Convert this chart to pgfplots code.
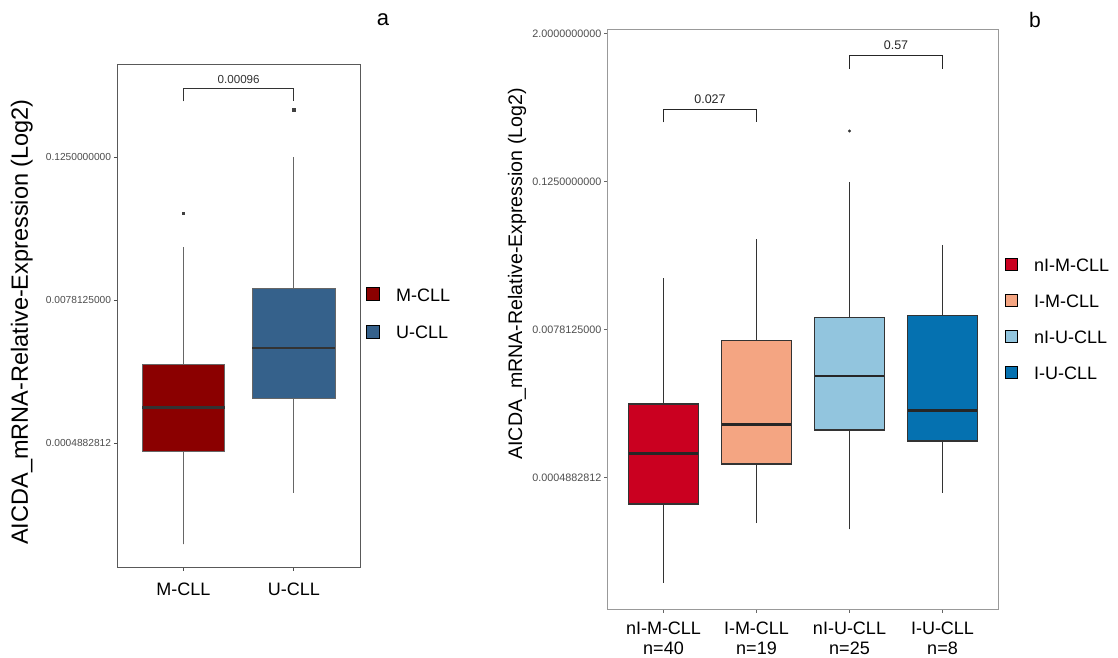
\documentclass[border=0pt]{standalone}
\usepackage{fontspec}
\setmainfont{Liberation Sans}
\usepackage{pgfplots}
\pgfplotsset{compat=1.18}
\usepgfplotslibrary{statistics}

\definecolor{mcll}{HTML}{8B0000}
\definecolor{ucll}{HTML}{35618B}
\definecolor{c1}{HTML}{CA0020}
\definecolor{c2}{HTML}{F4A582}
\definecolor{c3}{HTML}{92C5DE}
\definecolor{c4}{HTML}{0571B0}
\definecolor{tickgray}{HTML}{4D4D4D}

\pgfplotsset{
  boxplot/draw direction=y,
  boxplot/draw/lower whisker/.code={%
    \draw[/pgfplots/boxplot/every whisker/.try]
      (boxplot cs:\pgfplotsboxplotvalue{lower whisker}) --
      (boxplot cs:\pgfplotsboxplotvalue{lower quartile});},
  boxplot/draw/upper whisker/.code={%
    \draw[/pgfplots/boxplot/every whisker/.try]
      (boxplot cs:\pgfplotsboxplotvalue{upper quartile}) --
      (boxplot cs:\pgfplotsboxplotvalue{upper whisker});},
}

\begin{document}
\begin{tikzpicture}
\useasboundingbox (0,0) rectangle (1118pt,657pt);
% ---------------- panel a ----------------
\begin{axis}[
  at={(117.3pt,90pt)}, anchor=south west,
  scale only axis, width=242.7pt, height=502pt,
  xmin=0.4, xmax=2.6, ymin=-14.46, ymax=-0.42,
  xtick={1,2}, xticklabels={M-CLL,U-CLL},
  ytick={-11,-7,-3}, yticklabels={0.0004882812,0.0078125000,0.1250000000},
  tick align=outside, xtick pos=bottom, ytick pos=left,
  major tick length=3.5pt,
  tick style={black!70, line width=0.8pt},
  axis line style={black!65, line width=1pt},
  xticklabel style={font=\fontsize{18}{20}\selectfont, text=black, inner sep=0pt, yshift=-12pt},
  yticklabel style={font=\fontsize{10.2}{12}\selectfont, text=tickgray, inner sep=2.5pt},
  ylabel={AICDA\_mRNA-Relative-Expression (Log2)},
  ylabel style={font=\fontsize{23.5}{26}\selectfont, at={(axis description cs:-0.393,0.488)}, anchor=center},
  legend style={draw=none, fill=none, at={(axis description cs:1.0247,0.558)}, anchor=north west,
    font=\fontsize{18}{20}\selectfont, row sep=19.5pt, inner sep=0pt,
    nodes={inner sep=0pt, text height=13pt, text depth=4pt},
    /tikz/every odd column/.append style={column sep=16pt}},
  legend cell align=left,
  legend image code/.code={\draw[#1, line width=0.9pt] (0pt,-4pt) rectangle (13pt,9pt);},
  boxplot/every median/.style={draw=black!80, line width=2.5pt},
  boxplot/box extend=0.75,
  clip=false,
]
\addplot[forget plot, fill=mcll, draw=black!60, line width=0.8pt,
  mark=square*, mark size=1.4pt, mark options={fill=black!75, draw=black!75},
  boxplot prepared={draw position=1, lower whisker=-13.83, lower quartile=-11.23,
    median=-10.00, upper quartile=-8.79, upper whisker=-5.52}]
  table[row sep=\\, y index=0] {y\\ -4.57\\};
\addplot[forget plot, fill=ucll, draw=black!60, line width=0.8pt,
  mark=square*, mark size=1.4pt, mark options={fill=black!75, draw=black!75},
  boxplot prepared={draw position=2, lower whisker=-12.38, lower quartile=-9.74,
    median=-8.33, upper quartile=-6.67, upper whisker=-3.00}]
  table[row sep=\\, y index=0] {y\\ -1.68\\};
\addplot[forget plot, black!80, line width=0.7pt, mark=none]
  coordinates {(1,-1.44) (1,-1.07) (2,-1.07) (2,-1.44)};
\node[font=\fontsize{11.6}{13}\selectfont, text=black!80] at (axis cs:1.5,-0.82) {0.00096};
\addlegendimage{fill=mcll, draw=black}
\addlegendentry{M-CLL}
\addlegendimage{fill=ucll, draw=black}
\addlegendentry{U-CLL}
\end{axis}
\node[font=\fontsize{22}{24}\selectfont] at (383pt,637pt) {a};

% ---------------- panel b ----------------
\begin{axis}[
  at={(607.7pt,48pt)}, anchor=south west,
  scale only axis, width=390.6pt, height=579.7pt,
  xmin=0.4, xmax=4.6, ymin=-14.56, ymax=1.108,
  xtick={1,2,3,4},
  xticklabels={{nI-M-CLL\\n=40},{I-M-CLL\\n=19},{nI-U-CLL\\n=25},{I-U-CLL\\n=8}},
  ytick={-11,-7,-3,1}, yticklabels={0.0004882812,0.0078125000,0.1250000000,2.0000000000},
  tick align=outside, xtick pos=bottom, ytick pos=left,
  major tick length=3.5pt,
  tick style={black!60, line width=0.8pt},
  axis line style={black!40, line width=0.9pt},
  xticklabel style={font=\fontsize{18}{20}\selectfont, align=center, text=black, inner sep=0pt, yshift=-9pt},
  yticklabel style={font=\fontsize{10.8}{12}\selectfont, text=tickgray, inner sep=2.5pt},
  ylabel={AICDA\_mRNA-Relative-Expression (Log2)},
  ylabel style={font=\fontsize{19.6}{22}\selectfont, at={(axis description cs:-0.232,0.578)}, anchor=center},
  legend style={draw=none, fill=none, at={(axis description cs:1.0172,0.606)}, anchor=north west,
    font=\fontsize{18}{20}\selectfont, row sep=18.7pt, inner sep=0pt,
    nodes={inner sep=0pt, text height=13pt, text depth=4pt},
    /tikz/every odd column/.append style={column sep=16pt}},
  legend cell align=left,
  legend image code/.code={\draw[#1, line width=0.9pt] (0pt,-3.5pt) rectangle (12pt,8.5pt);},
  boxplot/every median/.style={draw=black!85, line width=2.5pt},
  boxplot/box extend=0.75,
  clip=false,
]
\addplot[forget plot, fill=c1, draw=black!80, line width=1.2pt, mark=none,
  boxplot prepared={draw position=1, lower whisker=-13.85, lower quartile=-11.72,
    median=-10.36, upper quartile=-9.02, upper whisker=-5.62}]
  coordinates {};
\addplot[forget plot, fill=c2, draw=black!80, line width=1.2pt, mark=none,
  boxplot prepared={draw position=2, lower whisker=-12.24, lower quartile=-10.64,
    median=-9.57, upper quartile=-7.31, upper whisker=-4.57}]
  coordinates {};
\addplot[forget plot, fill=c3, draw=black!80, line width=1.2pt,
  mark=*, mark size=0.8pt, mark options={fill=black!80, draw=black!80},
  boxplot prepared={draw position=3, lower whisker=-12.41, lower quartile=-9.72,
    median=-8.26, upper quartile=-6.68, upper whisker=-3.01}]
  table[row sep=\\, y index=0] {y\\ -1.64\\};
\addplot[forget plot, fill=c4, draw=black!80, line width=1.2pt, mark=none,
  boxplot prepared={draw position=4, lower whisker=-11.42, lower quartile=-10.02,
    median=-9.20, upper quartile=-6.62, upper whisker=-4.72}]
  coordinates {};
\addplot[forget plot, black!85, line width=0.8pt, mark=none]
  coordinates {(1,-1.41) (1,-1.05) (2,-1.05) (2,-1.41)};
\addplot[forget plot, black!85, line width=0.8pt, mark=none]
  coordinates {(3,0.043) (3,0.405) (4,0.405) (4,0.043)};
\node[font=\fontsize{12.5}{14}\selectfont, text=black!85] at (axis cs:1.5,-0.776) {0.027};
\node[font=\fontsize{12.5}{14}\selectfont, text=black!85] at (axis cs:3.5,0.665) {0.57};
\addlegendimage{fill=c1, draw=black}
\addlegendentry{nI-M-CLL}
\addlegendimage{fill=c2, draw=black}
\addlegendentry{I-M-CLL}
\addlegendimage{fill=c3, draw=black}
\addlegendentry{nI-U-CLL}
\addlegendimage{fill=c4, draw=black}
\addlegendentry{I-U-CLL}
\end{axis}
\node[font=\fontsize{21}{23}\selectfont] at (1035pt,637pt) {b};
\end{tikzpicture}
\end{document}
